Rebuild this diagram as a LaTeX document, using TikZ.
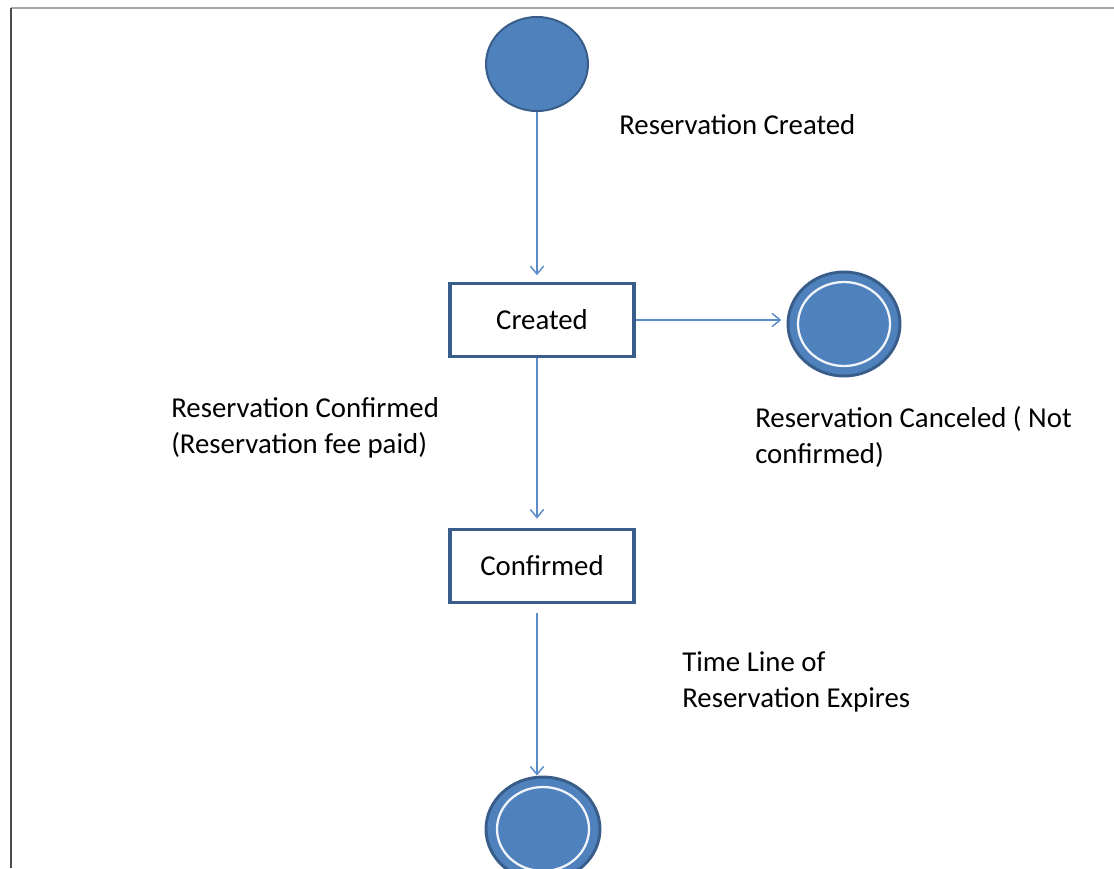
\documentclass[tikz,border=0pt]{standalone}
\usepackage{fontspec}
\setmainfont{Carlito}
\usetikzlibrary{positioning, arrows.meta, shapes.geometric, calc}

\definecolor{stfill}{HTML}{4F81BD}
\definecolor{stline}{HTML}{385D8A}
\definecolor{flow}{HTML}{5B8BC9}

\begin{document}
\begin{tikzpicture}[
        x=0.75pt, y=-0.75pt,
        >={Straight Barb[length=6pt, width=10pt]},
        font=\fontsize{21.6}{27}\selectfont,
        initial/.style={ellipse, fill=stfill, draw=stline, line width=1.5pt, minimum width=76.5pt, minimum height=70.5pt, inner sep=0pt},
        final/.style={ellipse, fill=stfill, draw=stline, line width=2.2pt, minimum width=84pt, minimum height=78pt, inner sep=0pt},
        state/.style={rectangle, draw=stline, line width=2.4pt, minimum width=138pt, minimum height=54.75pt},
        note/.style={anchor=west, align=left, inner sep=0pt},
        flowline/.style={->, draw=flow, line width=1.1pt},
    ]

        % Frame
        \useasboundingbox (0,0) rectangle (1114,868);
        \draw[gray!70, line width=1.5pt] (11,8) -- (1114,8);
        \draw[black!70, line width=2.2pt] (11,8) -- (11,868);

        % Draw the states
        \node[initial] (start) at (537,64) {};
        \node[state] (created) at (542,320) {Created};
        \node[state] (confirmed) at (542,566) {Confirmed};
        \node[final] (cancel) at (844,324) {};
        \node[final, minimum width=85.5pt] (expire) at (543,829) {};
        \foreach \name in {cancel, expire}
            \draw[white!92!stfill, line width=1.7pt] (\name.center) ellipse [x radius=34.5pt, y radius=31.5pt];

        % Draw the transition labels
        \node[note] (l-create) at (619,125) {Reservation Created};
        \node[note] (l-confirm) at (171,428) {Reservation Confirmed\\(Reservation fee paid)};
        \node[note] (l-cancel) at (755,437) {Reservation Canceled ( Not\\confirmed)};
        \node[note] (l-expire) at (682,682) {Time Line of\\Reservation Expires};

        % Connect the states
        \draw[flowline, shorten >=5pt] (start.south) -- (start.south |- created.north);
        \draw[flowline, shorten >=4pt] (created.east) -- (created.east -| cancel.west);
        \draw[flowline, shorten >=7pt] (created.south -| start) -- (confirmed.north -| start);
        \draw[flowline, shorten <=7pt] (confirmed.south -| start) -- (expire.north -| start);
\end{tikzpicture}
\end{document}
